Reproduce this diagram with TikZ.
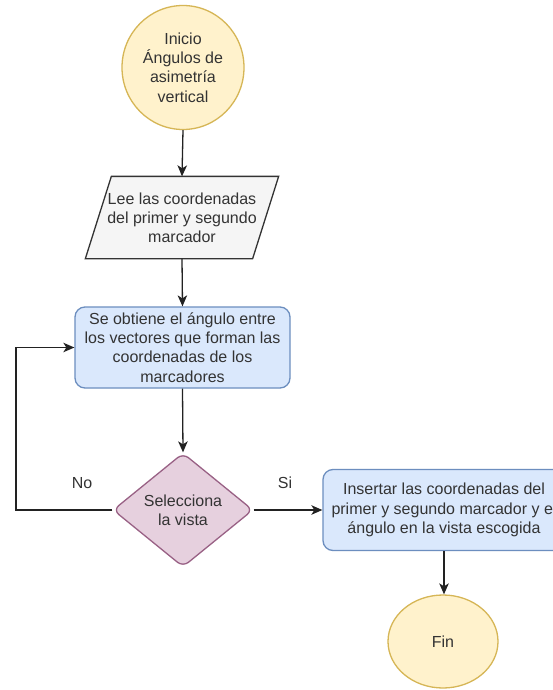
\documentclass[tikz,border=0pt]{standalone}
\usepackage{fontspec}
\setmainfont{Liberation Sans}
\usetikzlibrary{shapes.geometric,arrows.meta,backgrounds}

\definecolor{txt}{HTML}{333333}
\definecolor{arrowc}{HTML}{222222}
\definecolor{termfill}{HTML}{FFF2CC}
\definecolor{termline}{HTML}{D6B656}
\definecolor{iofillc}{HTML}{F5F5F5}
\definecolor{iolinec}{HTML}{333333}
\definecolor{procfill}{HTML}{DAE8FC}
\definecolor{procline}{HTML}{6C8EBF}
\definecolor{decfill}{HTML}{E6D0DE}
\definecolor{decline}{HTML}{996185}

\begin{document}
\begin{tikzpicture}[x=1pt,y=-1pt,
  base/.style={font=\fontsize{16}{19.2}\selectfont, text=txt, line width=1.3pt,
               align=center, inner sep=2pt},
  terminal/.style={base, ellipse, draw=termline, fill=termfill},
  ioshape/.style={base, minimum width=166pt, minimum height=81pt},
  ioframe/.style={draw=iolinec, fill=iofillc, line width=1.3pt, line join=miter},
  process/.style={base, rectangle, rounded corners=10pt, draw=procline, fill=procfill,
                  minimum height=81pt},
  decision/.style={base, diamond, rounded corners=7pt, draw=decline, fill=decfill,
                   minimum width=140pt, minimum height=114pt, inner sep=0pt},
  flow/.style={draw=arrowc, line width=1.3pt,
               -{Stealth[length=11pt,width=9.5pt,inset=3pt]}},
  tag/.style={font=\fontsize{16}{19.2}\selectfont, text=txt}]

\useasboundingbox (0,0) rectangle (553,690);
\clip (0,0) rectangle (553,690);

% start terminal
\node[terminal, minimum width=122pt, minimum height=124pt] (start) at (183,67.5)
  {Inicio\\Ángulos de\\asimetría\\vertical};

% input: read marker coordinates (parallelogram drawn behind the text)
\node[ioshape] (read) at (182,217.5) {Lee las coordenadas\\del primer y segundo\\marcador};
\begin{scope}[on background layer]
  \fill[white] (0,0) rectangle (553,690);
  \draw[ioframe] ([xshift=13pt]read.north west) -- ([xshift=13pt]read.north east)
    -- ([xshift=-13pt]read.south east) -- ([xshift=-13pt]read.south west) -- cycle;
\end{scope}

% angle computation
\node[process, minimum width=215pt] (angle) at (182.5,347.5)
  {Se obtiene el ángulo entre\\los vectores que forman las\\coordenadas de los\\marcadores};

% view selection
\node[decision] (view) at (183,510) {Selecciona\\la vista};

% insert into the chosen view (box runs past the right edge)
\node[process, minimum width=242pt] (insert) at (444,510)
  {Insertar las coordenadas del\\primer y segundo marcador y el\\ángulo en la vista escogida};

% end terminal
\node[terminal, minimum width=110pt, minimum height=93pt] (fin) at (443,641.5) {Fin};

% branch labels
\node[tag] (no) at (82,483) {No};
\node[tag] (si) at (285,483) {Si};

% connectors
\coordinate (back) at (16,510);
\draw[flow] (start.south) -- (read.north);
\draw[flow] (read.south) -- (angle.north);
\draw[flow] (angle.south) -- (view.north);
\draw[flow] (view.west) -- (back) |- (angle.west);
\draw[flow] (view.east) -- (insert.west);
\draw[flow] (insert.south) -- (insert.south |- fin.north);
\end{tikzpicture}
\end{document}
